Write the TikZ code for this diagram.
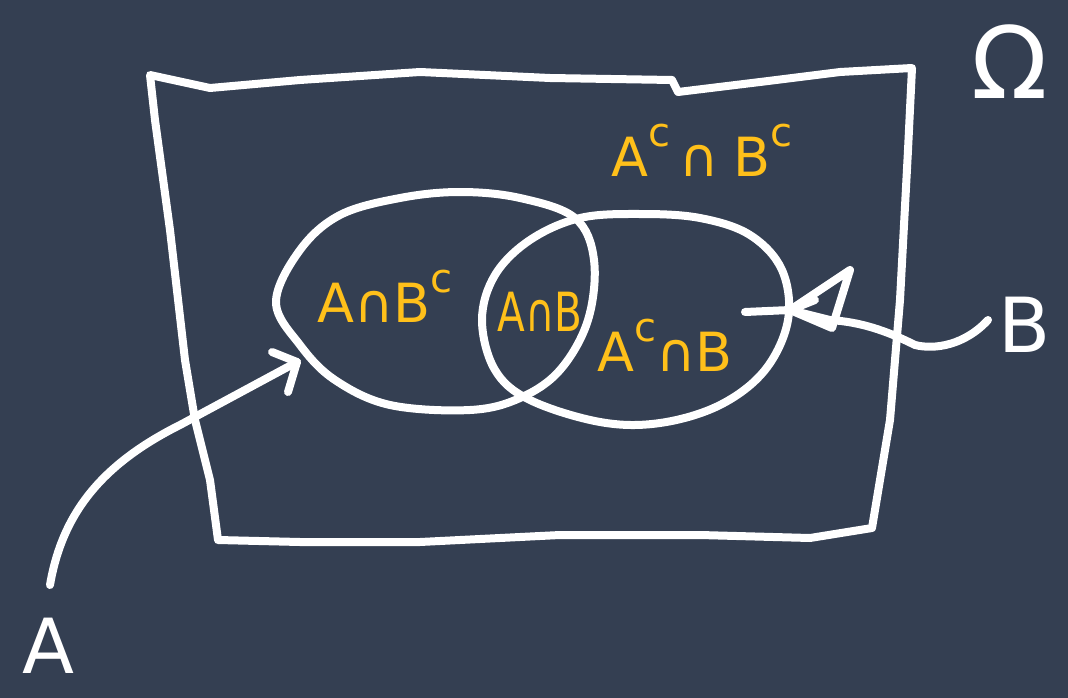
\documentclass[tikz,border=0pt]{standalone}
\usepackage{fontspec}
\setmainfont{DejaVu Sans}
\definecolor{bg}{HTML}{343F52}
\definecolor{ylw}{HTML}{FFC01A}
\newcommand{\supc}{\raisebox{0.55em}{\fontsize{40}{40}\selectfont c}}
\tikzset{
  ink/.style={draw=white,line width=8pt,line cap=round,line join=round},
  lbl/.style={text=ylw,inner sep=0pt,font=\fontsize{54}{60}\selectfont},
  wlbl/.style={text=white,inner sep=0pt,font=\fontsize{76}{86}\selectfont}
}
\begin{document}
\begin{tikzpicture}[x=1pt,y=-1pt]
\fill[bg] (0,0) rectangle (1068,698);
\useasboundingbox (0,0) rectangle (1068,698);
% sample space
\draw[ink] (150,75) -- (210,88) -- (300,80) -- (420,72) -- (550,78) -- (672,80) -- (678,92) -- (760,82) -- (840,72) -- (912,68)
  -- (908,150) -- (900,300) -- (890,420) -- (880,480) -- (872,528)
  -- (810,538) -- (700,535) -- (560,535) -- (420,542) -- (300,542) -- (218,540)
  -- (210,480) -- (195,420) -- (185,360) -- (170,230) -- (155,120) -- cycle;
% event A
\draw[ink] plot[smooth cycle,tension=0.6] coordinates {(575,218) (520,198) (460,192) (400,198) (340,215) (300,250) (276,302) (300,345) (335,380) (390,405) (470,410) (520,398) (560,370) (588,320) (594,260)};
% event B
\draw[ink] plot[smooth cycle,tension=0.6] coordinates {(750,235) (700,218) (640,214) (580,218) (530,240) (495,275) (482,320) (495,370) (530,400) (600,422) (660,423) (720,405) (765,370) (788,320) (782,270)};
% labels
\node[wlbl,font=\fontsize{100}{110}\selectfont] (omega) at (1010,62) {Ω};
\node[wlbl] (la) at (48,646) {A};
\node[wlbl] (lb) at (1025,325) {B};
\node[lbl] (acbc) at (702,150) {A\supc\,∩\;B\supc};
\node[lbl] (abc) at (385,296) {A∩B\supc};
\node[lbl,xscale=0.75] (ab) at (540,312) {A∩B};
\node[lbl] (acb) at (665,345) {A\supc∩B};
% arrow to A
\coordinate (tipA) at (297,362);
\coordinate (startA) at (50,585);
\draw[ink] (startA) .. controls (62,515) and (100,465) .. (180,425) -- (tipA);
\draw[ink] (272,352) -- (tipA) -- (288,392);
% arrow to B
\coordinate (startB) at (988,320);
\coordinate (tipB) at (790,310);
\draw[ink] (startB) .. controls (965,345) and (935,350) .. (915,345) .. controls (885,330) and (860,322) .. (830,320) -- (tipB);
\draw[ink] (tipB) -- (850,270) -- (832,328) -- cycle;
\draw[ink] (745,312) -- (tipB) -- (815,300);
\end{tikzpicture}
\end{document}
